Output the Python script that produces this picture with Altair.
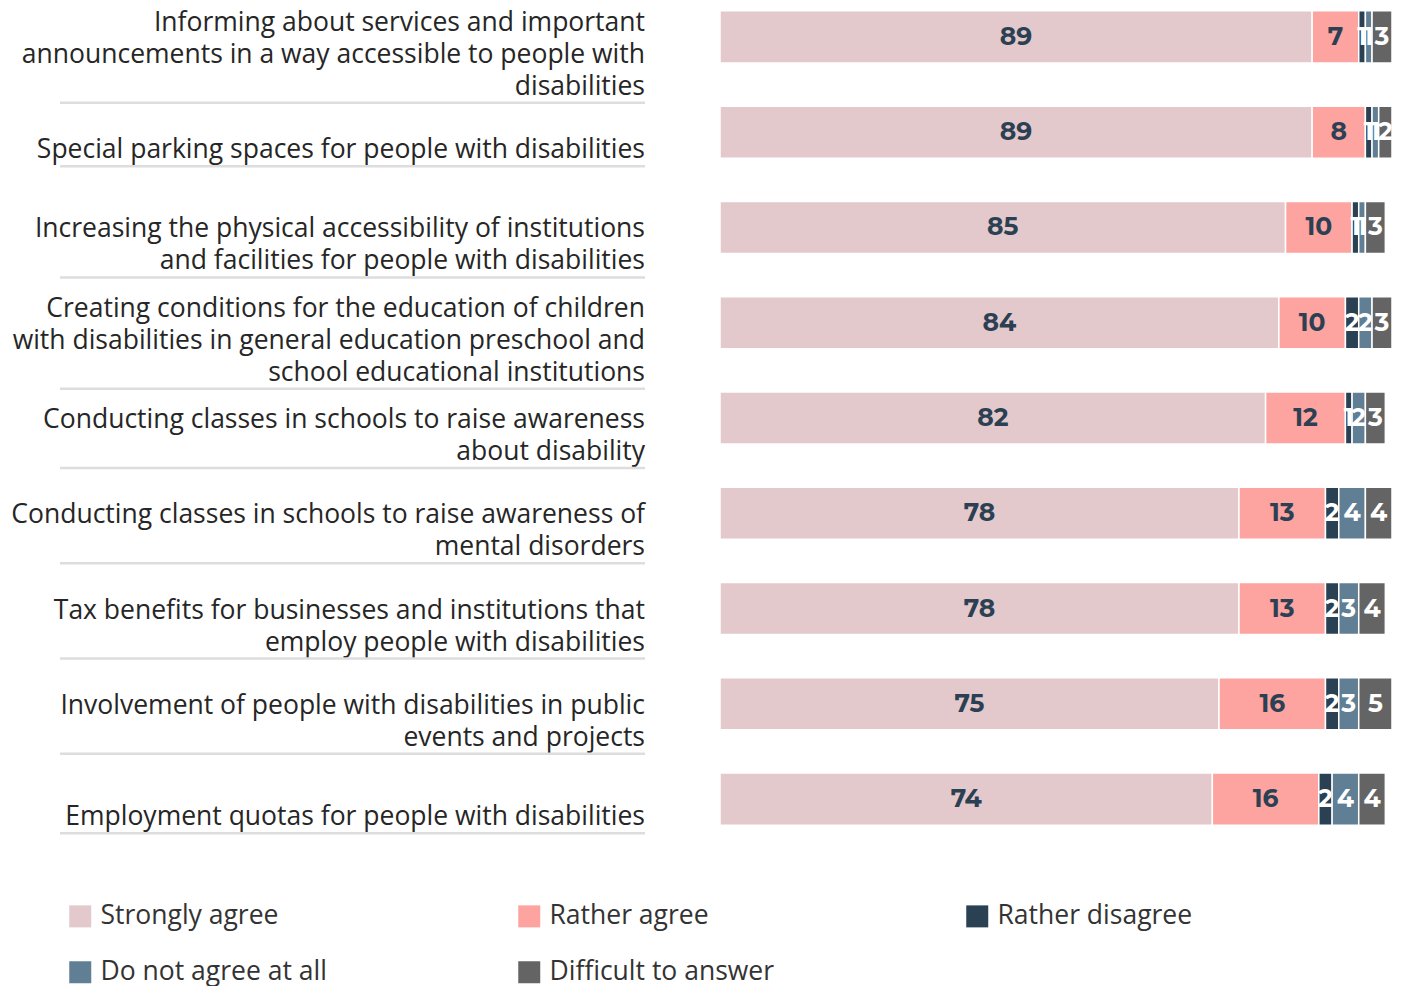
import altair as alt
import pandas as pd

items = [
    "Informing about services and important\nannouncements in a way accessible to people with\ndisabilities",
    "Special parking spaces for people with disabilities",
    "Increasing the physical accessibility of institutions\nand facilities for people with disabilities",
    "Creating conditions for the education of children\nwith disabilities in general education preschool and\nschool educational institutions",
    "Conducting classes in schools to raise awareness\nabout disability",
    "Conducting classes in schools to raise awareness of\nmental disorders",
    "Tax benefits for businesses and institutions that\nemploy people with disabilities",
    "Involvement of people with disabilities in public\nevents and projects",
    "Employment quotas for people with disabilities",
]
strongly_agree = [89, 89, 85, 84, 82, 78, 78, 75, 74]
rather_agree = [7, 8, 10, 10, 12, 13, 13, 16, 16]
rather_disagree = [1, 1, 1, 2, 1, 2, 2, 2, 2]
not_agree_at_all = [1, 1, 1, 2, 2, 4, 3, 3, 4]
difficult = [3, 2, 3, 3, 3, 4, 4, 5, 4]

categories = ["Strongly agree", "Rather agree", "Rather disagree",
              "Do not agree at all", "Difficult to answer"]
colors = ["#e3c9cb", "#fda3a0", "#2a4154", "#607f94", "#646464"]
series = [strongly_agree, rather_agree, rather_disagree, not_agree_at_all, difficult]

rows = []
for i, item in enumerate(items):
    for j, (cat, vals) in enumerate(zip(categories, series)):
        rows.append({"key": i, "cat": cat, "order": j, "value": vals[i]})
df = pd.DataFrame(rows)
labels_df = pd.DataFrame({
    "key": list(range(len(items))),
    "label": items,
    "nlines": [s.count("\n") + 1 for s in items],
})

yenc = alt.Y("key:O", axis=None,
             scale=alt.Scale(paddingInner=0.454, paddingOuter=0.03))

base = alt.Chart(df).transform_stack(
    stack="value", groupby=["key"], as_=["x0", "x1"],
    sort=[alt.SortField("order", order="ascending")],
)

bars = base.mark_bar(stroke="white", strokeWidth=1.5).encode(
    x=alt.X("x0:Q", scale=alt.Scale(domain=[0, 101], nice=False), axis=None),
    x2="x1:Q",
    y=yenc,
    color=alt.Color(
        "cat:N", sort=categories,
        scale=alt.Scale(domain=categories, range=colors),
        legend=alt.Legend(
            title=None, orient="none", legendX=-653, legendY=895,
            direction="horizontal",
            columns=3, columnPadding=189, rowPadding=29,
            symbolType="square", symbolSize=484, symbolStrokeWidth=0,
            labelFontSize=26.5, labelFont="Open Sans", labelColor="#333333",
            labelOffset=7, labelLimit=0,
        ),
    ),
)

values = base.transform_calculate(mid="(datum.x0 + datum.x1) / 2").mark_text(
    font="Montserrat, Inter", fontWeight="bold", fontSize=25,
).encode(
    x="mid:Q",
    y="key:O",
    text="value:Q",
    color=alt.condition(
        alt.FieldOneOfPredicate(field="cat", oneOf=categories[2:]),
        alt.value("white"), alt.value("#2b4052"),
    ),
)

label_dy = 18
line_h = 32
layers = []
for n in [1, 2, 3]:
    sub = alt.Chart(labels_df).transform_filter(f"datum.nlines == {n}")
    layers.append(
        sub.mark_text(
            align="right", baseline="middle", lineBreak="\n", lineHeight=line_h,
            fontSize=26.5, font="Open Sans", color="#262626",
            dy=label_dy - line_h / 2 * (n - 1),
        ).encode(x=alt.value(-75), y="key:O", text="label:N")
    )
    layers.append(
        sub.mark_rule(
            color="#dddddd", strokeWidth=2.5, yOffset=label_dy + 16 * n,
        ).encode(x=alt.value(-660), x2=alt.value(-75), y="key:O")
    )

chart = alt.layer(bars, values, *layers).properties(
    width=672, height=820,
    autosize=alt.AutoSizeParams(type="none"),
    padding={"left": 712, "top": 0, "right": 5, "bottom": 170},
).configure_view(stroke=None)

chart.save("out.html", embed_options={"renderer": "svg", "actions": False})
